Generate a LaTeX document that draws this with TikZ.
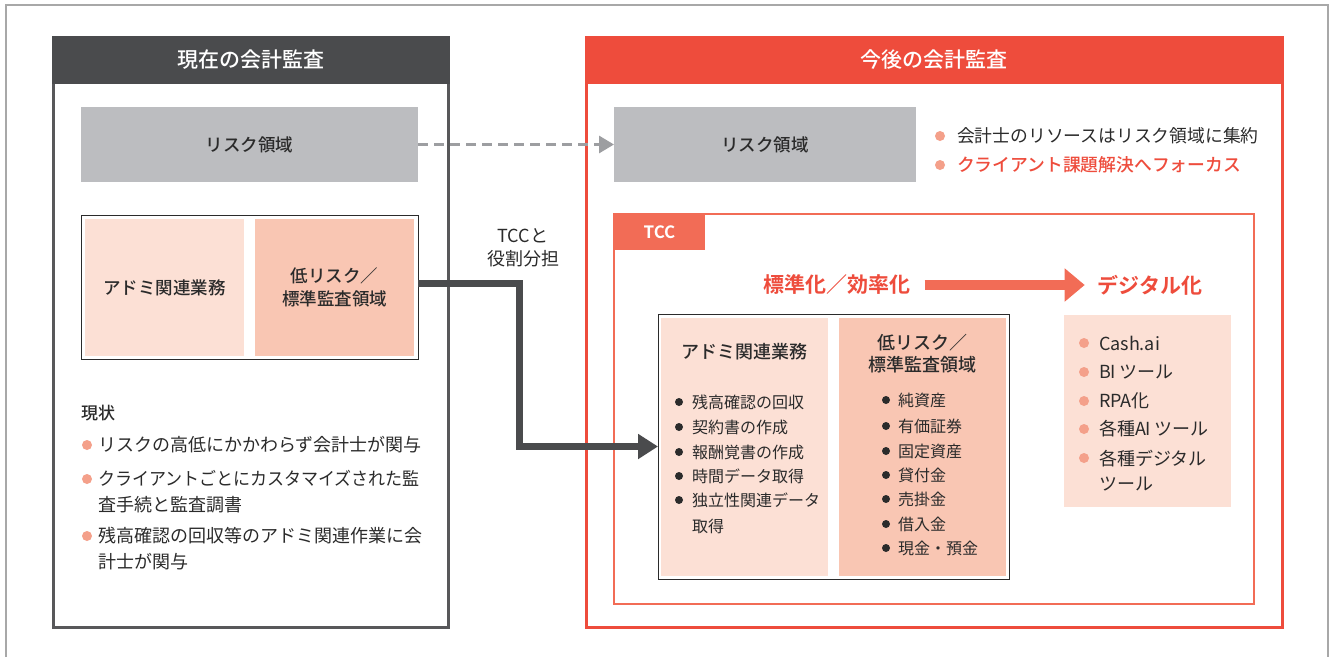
\documentclass[tikz,border=0pt]{standalone}
\usepackage{fontspec}
\usepackage{graphicx}
\setmainfont{Noto Sans CJK JP}[BoldFont={Noto Sans CJK JP Medium}]
\newfontfamily\heavyfont{Noto Sans CJK JP Bold}
\usetikzlibrary{arrows.meta}
\definecolor{hdrgray}{HTML}{4A4B4D}
\definecolor{panelgray}{HTML}{58585A}
\definecolor{boxgray}{HTML}{BCBDC0}
\definecolor{lightpink}{HTML}{FCE0D5}
\definecolor{salmon}{HTML}{F9C6B3}
\definecolor{panelred}{HTML}{EE4C3C}
\definecolor{tccorange}{HTML}{F26C56}
\definecolor{bulorange}{HTML}{F4A08A}
\definecolor{txt}{HTML}{2B2B2B}
\definecolor{dashgray}{HTML}{9D9EA1}
\definecolor{framegray}{HTML}{A8A8A8}
\begin{document}
\begin{tikzpicture}[x=1pt,y=-1pt,
  every node/.style={inner sep=0pt, outer sep=0pt},
  hdr/.style={text=white, font=\fontsize{21pt}{24pt}\selectfont\bfseries},
  ttl/.style={align=center, text=txt, font=\fontsize{17.5pt}{23pt}\selectfont\bfseries},
  item/.style={anchor=west, align=left, text=txt, font=\fontsize{18pt}{26pt}\selectfont},
  sitem/.style={anchor=west, align=left, text=txt, font=\fontsize{16pt}{26pt}\selectfont},
  bul/.style={circle, fill=bulorange, minimum size=10pt},
  dotb/.style={circle, fill=txt, minimum size=8pt}]
\useasboundingbox (0,0) rectangle (1330,657);
\fill[white] (0,0) rectangle (1330,657);
\draw[framegray, line width=1.5pt] (6,657) -- (6,5) -- (1328,5) -- (1328,657);

% ---------- left panel ----------
\node[draw=panelgray, line width=3pt, minimum width=395pt, minimum height=590pt] (lpanel) at (250.5,332) {};
\node[fill=hdrgray, minimum width=398pt, minimum height=47.5pt, hdr] (lhead) at (250.5,59.75) {現在の会計監査};
\node[fill=boxgray, minimum width=337pt, minimum height=75pt, ttl] (lrisk) at (249.5,144.5) {リスク領域};
\node[draw=txt, line width=1pt, minimum width=337pt, minimum height=144pt] (lpair) at (249.5,287) {};
\node[fill=lightpink, minimum width=159pt, minimum height=137pt, ttl] (ladmin) at (164.5,287.5) {アドミ関連業務};
\node[fill=salmon, minimum width=159pt, minimum height=137pt, ttl] (llow) at (334.5,287.5) {低リスク／\\標準監査領域};

\node[anchor=west, text=txt, font=\fontsize{17pt}{20pt}\selectfont\bfseries] (genjo) at (81,413) {現状};
\node[bul] (lb1) at (87,445) {};
\node[bul] (lb2) at (87,479) {};
\node[bul] (lb3) at (87,536) {};
\node[item] (lt1) at (98,445) {リスクの高低にかかわらず会計士が関与};
\node[item] (lt2) at (98,492) {\scalebox{0.945}[1]{クライアントごとにカスタマイズされた監}\\査手続と監査調書};
\node[item] (lt3) at (98,549) {残高確認の回収等のアドミ関連作業に会\\計士が関与};

% ---------- right panel ----------
\node[draw=panelred, line width=3pt, minimum width=696pt, minimum height=590pt] (rpanel) at (934,332) {};
\node[fill=panelred, minimum width=699pt, minimum height=47.5pt, hdr] (rhead) at (934,59.75) {今後の会計監査};
\node[fill=boxgray, minimum width=302pt, minimum height=75pt, ttl] (rrisk) at (765,144.5) {リスク領域};
\node[bul] (rb1) at (940,136) {};
\node[bul] (rb2) at (940,165) {};
\node[item, font=\fontsize{17.8pt}{26pt}\selectfont] (rt1) at (957,136) {会計士のリソースはリスク領域に集約};
\node[item, font=\fontsize{17.8pt}{26pt}\selectfont\bfseries, text=panelred] (rt2) at (957,165) {クライアント課題解決へフォーカス};

% TCC box
\node[draw=tccorange, line width=1.5pt, minimum width=640pt, minimum height=390pt] (tcc) at (934,409) {};
\node[fill=tccorange, minimum width=91pt, minimum height=36pt, text=white, font=\fontsize{17pt}{20pt}\selectfont\heavyfont] (tcctab) at (659.5,232) {TCC};
\node[text=panelred, font=\fontsize{21pt}{24pt}\selectfont\heavyfont] (stdlbl) at (837,285) {標準化／効率化};
\node[text=panelred, font=\fontsize{21pt}{24pt}\selectfont\heavyfont] (diglbl) at (1150,285) {デジタル化};
\draw[tccorange, line width=10pt, -{Triangle[length=20pt,width=32pt]}, shorten <=14pt, shorten >=13pt] (stdlbl.east) -- (diglbl.west);

\node[draw=txt, line width=1pt, minimum width=351pt, minimum height=265pt] (tccinner) at (833.5,446.5) {};
\node[fill=lightpink, minimum width=167pt, minimum height=258pt] (radmin) at (744.5,447) {};
\node[fill=salmon, minimum width=167pt, minimum height=258pt] (rlow) at (922.5,447) {};
\node[ttl, font=\fontsize{18pt}{22pt}\selectfont\bfseries] (radmint) at (744.5,352) {アドミ関連業務};
\node[ttl, font=\fontsize{18pt}{22pt}\selectfont\bfseries] (rlowt) at (922.5,354) {低リスク／\\標準監査領域};

\node[dotb] (ad1) at (679,402) {};
\node[dotb] (ad2) at (679,427) {};
\node[dotb] (ad3) at (679,452) {};
\node[dotb] (ad4) at (679,476) {};
\node[dotb] (ad5) at (679,500) {};
\node[sitem] (at1) at (692,402) {残高確認の回収};
\node[sitem] (at2) at (692,427) {契約書の作成};
\node[sitem] (at3) at (692,452) {報酬覚書の作成};
\node[sitem] (at4) at (692,476) {時間データ取得};
\node[sitem] (at5) at (692,513) {独立性関連データ\\取得};

\node[dotb] (ld1) at (886,400) {};
\node[dotb] (ld2) at (886,426) {};
\node[dotb] (ld3) at (886,451) {};
\node[dotb] (ld4) at (886,475) {};
\node[dotb] (ld5) at (886,499) {};
\node[dotb] (ld6) at (886,524) {};
\node[dotb] (ld7) at (886,548) {};
\node[sitem] (lt1r) at (898,400) {純資産};
\node[sitem] (lt2r) at (898,426) {有価証券};
\node[sitem] (lt3r) at (898,451) {固定資産};
\node[sitem] (lt4r) at (898,475) {貸付金};
\node[sitem] (lt5r) at (898,499) {売掛金};
\node[sitem] (lt6r) at (898,524) {借入金};
\node[sitem] (lt7r) at (898,548) {現金・預金};

% digital box
\node[fill=lightpink, minimum width=167pt, minimum height=192pt] (digbox) at (1147.5,411) {};
\node[bul] (db1) at (1084,343) {};
\node[bul] (db2) at (1084,372) {};
\node[bul] (db3) at (1084,401) {};
\node[bul] (db4) at (1084,429) {};
\node[bul] (db5) at (1084,458) {};
\node[item] (dt1) at (1099,343) {Cash.ai};
\node[item] (dt2) at (1099,372) {BI\,ツール};
\node[item] (dt3) at (1099,401) {RPA化};
\node[item] (dt4) at (1099,429) {各種AI\,ツール};
\node[item, font=\fontsize{18pt}{25pt}\selectfont] (dt5) at (1099,470.5) {各種デジタル\\ツール};

% ---------- connectors ----------
\node[align=center, text=txt, font=\fontsize{18pt}{23pt}\selectfont] (role) at (523,247.5) {TCCと\\役割分担};
\draw[dashgray, line width=3pt, dash pattern=on 10pt off 6pt, -{Triangle[length=15pt,width=17pt]}] (lrisk.east) -- (rrisk.west);
\coordinate (bend) at (519,0);
\draw[hdrgray, line width=7pt, line join=miter, -{Triangle[length=20pt,width=24pt]}] ([yshift=3.5pt]lpair.east) -| (bend |- tccinner.west) -- (tccinner.west);
\end{tikzpicture}
\end{document}
